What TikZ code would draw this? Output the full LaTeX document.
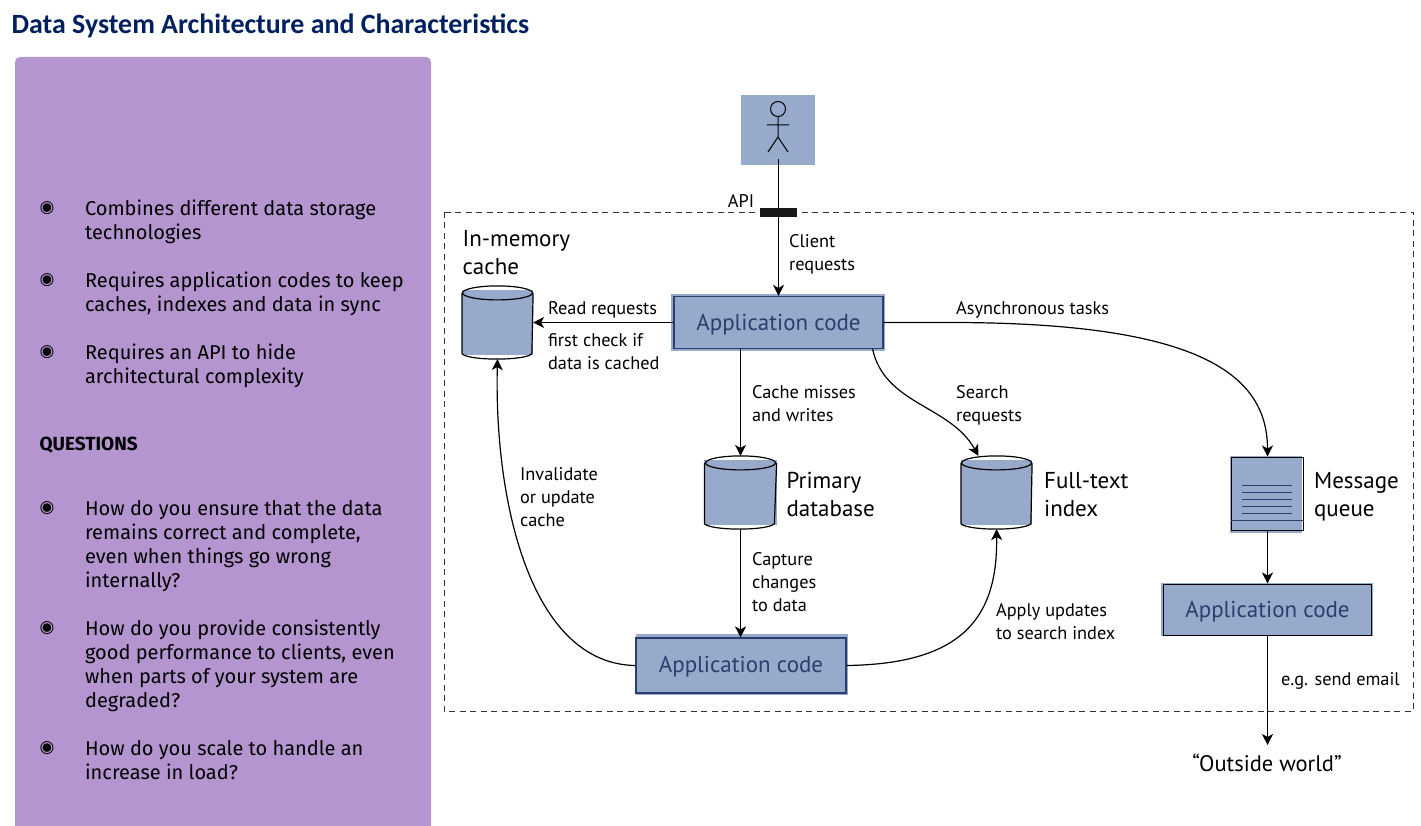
\documentclass[tikz,border=0pt]{standalone}
\usepackage{fontspec}
\setmainfont{Fira Sans}
\newfontfamily\titlefont{Carlito}
\newfontfamily\figfont{PT Sans}
\newfontfamily\symfont{DejaVu Sans}
\usetikzlibrary{arrows.meta}
\definecolor{panelpurple}{HTML}{B495CF}
\definecolor{boxblue}{HTML}{98AACB}
\definecolor{boxnavy}{HTML}{2C3E6D}
\definecolor{titleblue}{HTML}{002060}
\tikzset{
  paneltext/.style={anchor=north west,align=left,inner sep=0pt,font=\fontsize{20}{24}\selectfont},
  panelmark/.style={inner sep=0pt,font=\symfont\fontsize{17}{17}\selectfont},
  figlabel/.style={anchor=north west,align=left,inner sep=0pt,font=\figfont\fontsize{18.3}{23}\selectfont},
  figtitle/.style={anchor=north west,align=left,inner sep=0pt,font=\figfont\fontsize{23}{28}\selectfont},
  backfill/.style={fill=boxblue,inner sep=0pt},
  appbox/.style={draw=boxnavy,line width=1.1pt,inner sep=0pt,text depth=0pt,text=boxnavy,font=\figfont\fontsize{23}{28}\selectfont},
  dbstore/.style={inner sep=0pt,minimum width=70pt,minimum height=72pt},
}
\begin{document}
\begin{tikzpicture}[x=1pt,y=-1pt,>={Stealth[length=11pt,width=11pt,inset=3pt]},line width=1.2pt]
   \useasboundingbox (0,0) rectangle (1421,826);
   % left side
   \node[anchor=base west,inner sep=0pt,text=titleblue,font=\titlefont\bfseries\fontsize{27.9}{30}\selectfont] (heading) at (11,34) {Data System Architecture and Characteristics};
   \fill[panelpurple] (15,826) {[rounded corners=5pt] -- (15,57) -- (431,57)} -- (431,826) -- cycle;
   \node[panelmark] (markA) at (47,208) {◉};
   \node[paneltext] (itemA) at (84.5,199) {Combines different data storage\\technologies};
   \node[panelmark] (markB) at (47,280) {◉};
   \node[paneltext] (itemB) at (84.5,271) {Requires application codes to keep\\caches, indexes and data in sync};
   \node[panelmark] (markC) at (47,352) {◉};
   \node[paneltext] (itemC) at (84.5,343) {Requires an API to hide\\architectural complexity};
   \node[paneltext,font=\bfseries\fontsize{19}{24}\selectfont] (questions) at (39,436) {QUESTIONS};
   \node[panelmark] (markD) at (47,508) {◉};
   \node[paneltext] (itemD) at (84.5,500) {How do you ensure that the data\\remains correct and complete,\\even when things go wrong\\internally?};
   \node[panelmark] (markE) at (47,628) {◉};
   \node[paneltext] (itemE) at (84.5,619) {How do you provide consistently\\good performance to clients, even\\when parts of your system are\\degraded?};
   \node[panelmark] (markF) at (47,748) {◉};
   \node[paneltext] (itemF) at (84.5,740) {How do you scale to handle an\\increase in load?};
   % system boundary
   \draw[line width=.9pt,dash pattern=on 6pt off 4.5pt,black!80] (444,212) rectangle (1413,711);
   % client
   \node[backfill,minimum width=74pt,minimum height=70pt] (client) at (778,130) {};
   \draw[line width=1pt] (778,109) circle (7.5);
   \draw[line width=1pt] (778,117) -- (778,137) (767,125) -- (789,125) (768,152) -- (778,137) -- (788,152);
   \coordinate (clientfoot) at (778.5,159);
   % stores and boxes
   \node[backfill,minimum width=214pt,minimum height=57pt] at (778,322.5) {};
   \node[appbox,minimum width=209pt,minimum height=52pt] (appA) at (778.5,322.5) {Application code};
   \node[backfill,minimum width=212pt,minimum height=61pt] at (742,664.5) {};
   \node[appbox,text depth=2pt,minimum width=210pt,minimum height=55pt] (appB) at (741,665.5) {Application code};
   \node[backfill,minimum width=212pt,minimum height=53pt] at (1267,609) {};
   \node[appbox,draw=black,line width=1pt,minimum width=208pt,minimum height=51pt] (appC) at (1267.5,609.5) {Application code};
   \node[dbstore] (cache) at (497.5,322.5) {};
   \node[dbstore,minimum width=71pt] (primary) at (740.5,492.5) {};
   \node[dbstore] (fulltext) at (996.5,492.5) {};
   \foreach \store in {cache,primary,fulltext} {
     \fill[boxblue] ([yshift=-4.5pt]\store.north west) rectangle ([yshift=4pt]\store.south east);
     \draw ([yshift=-7pt]\store.north) ellipse [x radius=35pt,y radius=7pt];
     \draw ([yshift=-7pt]\store.north west) -- ([yshift=6pt]\store.south west) arc [start angle=180,end angle=360,x radius=35pt,y radius=6pt] -- ([yshift=-7pt]\store.north east);
   }
   \node[backfill,minimum width=72pt,minimum height=77pt] at (1266,494.5) {};
   \node[draw=black,line width=1pt,inner sep=0pt,minimum width=72pt,minimum height=73pt] (queue) at (1267.5,493.5) {};
   \foreach \liney in {485.7,492.7,499.3,506.3,513.3}
     \draw[boxnavy,line width=1pt] (1242,\liney) -- (1292,\liney);
   \draw[boxnavy,line width=1pt] (queue.west |- 0,520) -- (queue.east |- 0,520);
   % connectors
   \path[->]
    (clientfoot) edge (appA)
    (appA) edge (appA -| cache.east)
    (appA.south -| primary) edge (primary)
    (queue) edge (appC);
   \draw[->] (appA.east) -- (950,322.5) .. controls (1190,322.5) and (1267.5,370) .. (queue.north);
   \draw[->] ([xshift=-11pt]appA.south east) .. controls (885,405) and (950,405) .. ([xshift=-18pt]fulltext.north);
   \draw[->] (appB.east) .. controls (960,664) and (998,620) .. (fulltext.south);
   \draw[->] (appB.west) .. controls (530,664) and (494,500) .. (cache.south);
   \draw[->] (primary) -- (appB.north -| primary);
   \node (world) [inner sep=0pt,font=\figfont\fontsize{22.5}{26}\selectfont] at (1267,763) {“Outside world”};
   \draw[->] (appC) -- (appC.south |- 0,745);
   % api
   \node[fill=black!90,inner sep=0pt,minimum width=37pt,minimum height=9pt] (apibar) at (778.5,212.5) {};
   \node[inner sep=0pt,font=\figfont\fontsize{18.3}{23}\selectfont] (apilabel) at (741,201) {API};
   % labels
   \node[figtitle] (cachelabel) at (462,230) {In-memory\\cache};
   \node[figtitle] (primarylabel) at (786,472) {Primary\\database};
   \node[figtitle] (fulltextlabel) at (1043.5,472) {Full-text\\index};
   \node[figtitle] (queuelabel) at (1313.5,472) {Message\\queue};
   \node[figlabel] (clientlabel) at (788.5,234) {Client\\requests};
   \node[figlabel] (readlabel) at (547.5,301) {Read requests};
   \node[figlabel] (checklabel) at (547.5,333) {first check if\\data is cached};
   \node[figlabel] (asynclabel) at (955.5,301) {Asynchronous tasks};
   \node[figlabel] (misslabel) at (751.5,385) {Cache misses\\and writes};
   \node[figlabel] (searchlabel) at (955.5,385) {Search\\requests};
   \node[figlabel] (invalidlabel) at (519.5,467) {Invalidate\\or update\\cache};
   \node[figlabel] (capturelabel) at (751.5,552) {Capture\\changes\\to data};
   \node[figlabel] (applylabel) at (995.5,603) {Apply updates\\to search index};
   \node[figlabel] (emaillabel) at (1280.5,672) {e.g. send email};
\end{tikzpicture}
\end{document}
